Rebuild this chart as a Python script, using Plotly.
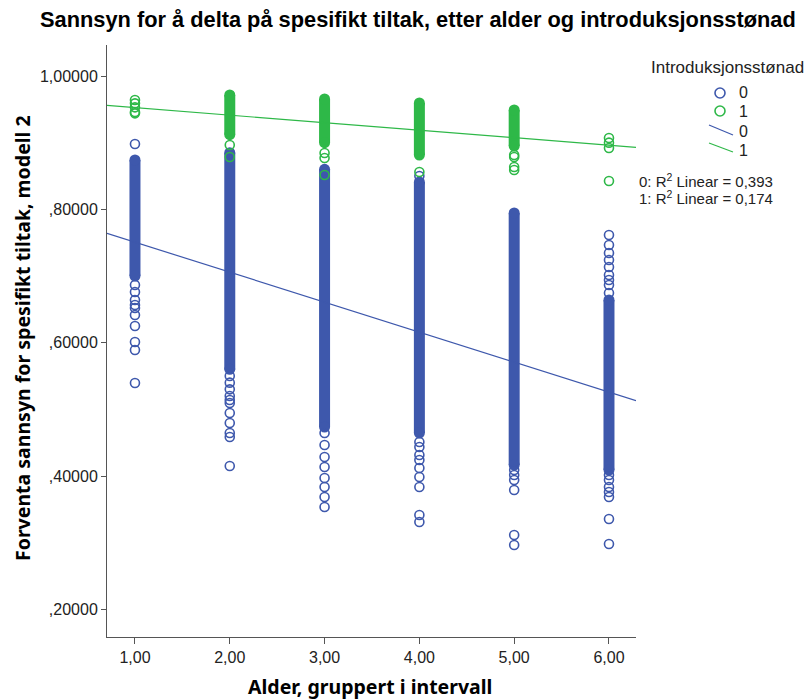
import plotly.graph_objects as go

# ---------------- data ----------------
age_groups = [1, 2, 3, 4, 5, 6]
x_ticktext = ["1,00", "2,00", "3,00", "4,00", "5,00", "6,00"]
y_tickvals = [0.2, 0.4, 0.6, 0.8, 1.0]
y_ticktext = [",20000", ",40000", ",60000", ",80000", "1,00000"]

# Introduksjonsstønad = 0 : dense (overlapping) range per age group
blue_dense_lo = [0.700, 0.560, 0.4735, 0.4645, 0.4165, 0.409]
blue_dense_hi = [0.874, 0.885, 0.860, 0.841, 0.7945, 0.664]
# individually visible points (outside dense range)
blue_pts = {
    1: [0.898, 0.6865, 0.676, 0.664, 0.6565, 0.652, 0.6415, 0.625, 0.601, 0.589, 0.5395],
    2: [0.550, 0.540, 0.530, 0.520, 0.514, 0.5095, 0.4945, 0.4795, 0.4645, 0.4585, 0.415],
    3: [0.4645, 0.4465, 0.4285, 0.4135, 0.397, 0.3835, 0.3685, 0.3535],
    4: [0.850, 0.451, 0.4435, 0.4315, 0.424, 0.412, 0.3985, 0.3835, 0.3415, 0.331],
    5: [0.409, 0.4015, 0.394, 0.379, 0.3115, 0.2965],
    6: [0.7615, 0.7465, 0.7345, 0.724, 0.7135, 0.7015, 0.694, 0.6865, 0.6745,
        0.4015, 0.394, 0.3835, 0.376, 0.3685, 0.3355, 0.298],
}

# Introduksjonsstønad = 1
green_dense_lo = [None, 0.912, 0.900, 0.8815, 0.895, None]
green_dense_hi = [None, 0.9715, 0.9655, 0.9595, 0.949, None]
green_pts = {
    1: [0.964, 0.959, 0.953, 0.946, 0.944],
    2: [0.8965, 0.8785],
    3: [0.8845, 0.877, 0.8515],
    4: [0.856],
    5: [0.8815, 0.8785, 0.8635, 0.859],
    6: [0.907, 0.900, 0.892, 0.8425],
}

# fitted linear lines (end values)
fit_x = [0.705, 6.285]
fit_blue = [0.764, 0.513]
fit_green = [0.9558, 0.8930]

r2_labels = ["0: R<sup>2</sup> Linear = 0,393", "1: R<sup>2</sup> Linear = 0,174"]

BLUE = "#3E58AC"
GREEN = "#2EB848"
FONT = "Arial, Liberation Sans, sans-serif"
TFONT = "Noto Sans, Open Sans, sans-serif"

fig = go.Figure()


def add_group(dense_lo, dense_hi, pts, color):
    for i, g in enumerate(age_groups):
        lo, hi = dense_lo[i], dense_hi[i]
        if lo is not None:
            fig.add_trace(go.Scatter(
                x=[g, g], y=[lo, hi], mode="lines+markers",
                line=dict(color=color, width=11),
                marker=dict(symbol="circle", size=11, color=color, line=dict(width=0)),
                hoverinfo="skip", showlegend=False))
        ys = pts.get(g, [])
        if ys:
            fig.add_trace(go.Scatter(
                x=[g] * len(ys), y=ys, mode="markers",
                marker=dict(symbol="circle-open", size=9, color=color,
                            line=dict(width=1.6, color=color)),
                showlegend=False))


add_group(blue_dense_lo, blue_dense_hi, blue_pts, BLUE)
add_group(green_dense_lo, green_dense_hi, green_pts, GREEN)

fig.add_trace(go.Scatter(x=fit_x, y=fit_blue, mode="lines",
                         line=dict(color=BLUE, width=1.2), showlegend=False))
fig.add_trace(go.Scatter(x=fit_x, y=fit_green, mode="lines",
                         line=dict(color=GREEN, width=1.2), showlegend=False))

# ---------------- layout ----------------
L, R, T, B = 107, 636, 45, 637
W, H = 809, 700
pw, ph = R - L, B - T


def px(x):
    return (x - L) / pw


def py(y):
    return (B - y) / ph


ann = []
shapes = []
ann.append(dict(text="<b>Sannsyn for å delta på spesifikt tiltak, etter alder og introduksjonsstønad</b>",
                x=px(418), y=py(20), xref="paper", yref="paper", showarrow=False,
                font=dict(size=21.8, color="#000", family=FONT), xanchor="center", yanchor="middle"))
ann.append(dict(text="<b>Alder, gruppert i intervall</b>", x=px(370), y=py(686),
                xref="paper", yref="paper", showarrow=False,
                font=dict(size=19.5, color="#000", family=TFONT), xanchor="center", yanchor="middle"))
ann.append(dict(text="<b>Forventa sannsyn for spesifikt tiltak, modell 2</b>", x=px(22), y=py(338),
                xref="paper", yref="paper", showarrow=False, textangle=-90,
                font=dict(size=19.5, color="#000", family=TFONT), xanchor="center", yanchor="middle"))
# legend
ann.append(dict(text="Introduksjonsstønad", x=px(727), y=py(67), xref="paper", yref="paper",
                showarrow=False, font=dict(size=17, color="#222", family=FONT),
                xanchor="center", yanchor="middle"))
for lab, yy in [("0", 93), ("1", 111), ("0", 131), ("1", 150)]:
    ann.append(dict(text=lab, x=px(737), y=py(yy), xref="paper", yref="paper",
                    showarrow=False, font=dict(size=16, color="#222", family=FONT),
                    xanchor="left", yanchor="middle"))
for col, yy in [(BLUE, 93), (GREEN, 111)]:
    shapes.append(dict(type="circle", xref="paper", yref="paper",
                       x0=px(715), x1=px(725), y0=py(yy + 5), y1=py(yy - 5),
                       line=dict(color=col, width=1.6)))
for col, y0, y1 in [(BLUE, 125, 135), (GREEN, 143, 152)]:
    shapes.append(dict(type="line", xref="paper", yref="paper",
                       x0=px(709), x1=px(733), y0=py(y0), y1=py(y1),
                       line=dict(color=col, width=1.2)))
for lab, yy in zip(r2_labels, [180, 197]):
    ann.append(dict(text=lab, x=px(637), y=py(yy), xref="paper", yref="paper",
                    showarrow=False, align="left",
                    font=dict(size=15, color="#222", family=FONT),
                    xanchor="left", yanchor="middle"))

fig.update_layout(
    width=W, height=H,
    margin=dict(l=L, r=W - R, t=T, b=H - B, pad=0),
    paper_bgcolor="white", plot_bgcolor="white",
    showlegend=False,
    annotations=ann, shapes=shapes,
    font=dict(family=FONT, color="#222"),
    xaxis=dict(range=[0.705, 6.285], tickvals=age_groups, ticktext=x_ticktext,
               ticks="outside", ticklen=6, tickwidth=1, tickcolor="#555",
               showline=True, linecolor="#555", linewidth=1, showgrid=False,
               zeroline=False, tickfont=dict(size=16, color="#222", family=FONT)),
    yaxis=dict(range=[0.1585, 1.0465], tickvals=y_tickvals, ticktext=y_ticktext,
               ticks="outside", ticklen=5, tickwidth=1, tickcolor="#555",
               showline=True, linecolor="#555", linewidth=1, showgrid=False,
               zeroline=False, tickfont=dict(size=16, color="#222", family=FONT)),
)

fig.write_html("out.html")
